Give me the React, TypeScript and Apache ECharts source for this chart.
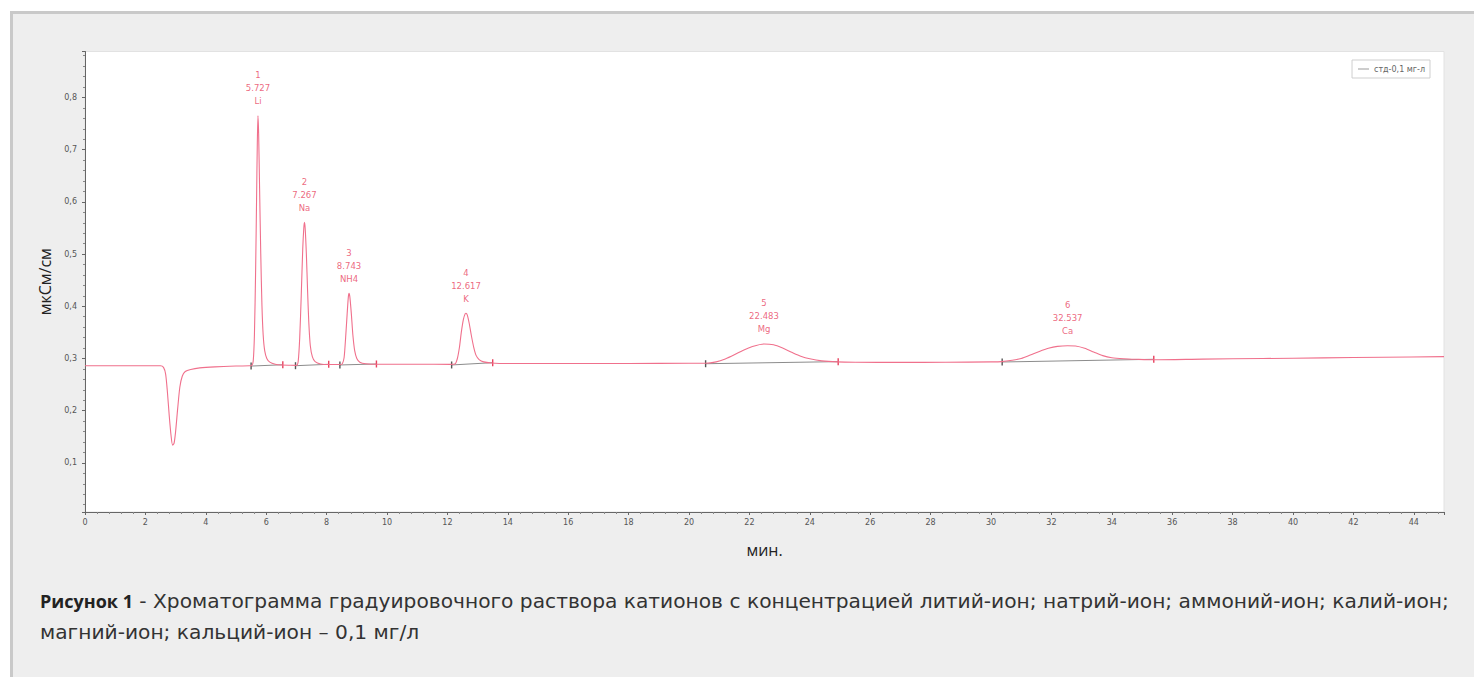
import React, { useEffect, useRef } from "react";
import * as echarts from "echarts";

const seriesName = "стд-0,1 мг-л";
const xAxisName = "мин.";
const yAxisName = "мкСм/см";
const captionBold = "Рисунок 1";
const captionLine1 = " - Хроматограмма градуировочного раствора катионов с концентрацией литий-ион; натрий-ион; аммоний-ион; калий-ион;";
const captionLine2 = "магний-ион; кальций-ион – 0,1 мг/л";

// chromatogram trace: time (min) and conductivity (мкСм/см)
const signalTime = [
  0, 1.0, 2.0, 2.5, 2.6, 2.67, 2.73, 2.79, 2.85, 2.9, 2.95, 3.0, 3.07, 3.14, 3.22, 3.32, 3.5, 3.8, 4.3, 5.0, 5.45,
  5.52, 5.57, 5.61, 5.65, 5.68, 5.705, 5.727, 5.75, 5.78, 5.82, 5.86, 5.9, 5.95, 6.02, 6.12, 6.3, 6.5, 6.8,
  7.0, 7.06, 7.11, 7.16, 7.21, 7.245, 7.267, 7.29, 7.33, 7.37, 7.41, 7.46, 7.53, 7.62, 7.8, 8.1, 8.45,
  8.52, 8.58, 8.63, 8.68, 8.72, 8.743, 8.77, 8.82, 8.87, 8.93, 9.0, 9.1, 9.3, 9.7, 11.0, 12.1,
  12.25, 12.33, 12.4, 12.46, 12.53, 12.59, 12.617, 12.66, 12.72, 12.79, 12.87, 12.95, 13.05, 13.2, 13.45, 14, 16, 18, 20, 20.5,
  20.55, 20.9, 21.2, 21.5, 21.8, 22.1, 22.483, 22.8, 23.1, 23.4, 23.7, 24.0, 24.4, 24.9, 25.5, 27, 28.5, 30, 30.35,
  30.7, 31.0, 31.3, 31.6, 31.9, 32.2, 32.537, 32.8, 33.1, 33.4, 33.7, 34.0, 34.4, 34.8, 35.4, 37, 39, 41, 43, 45,
];
const signalValue = [
  0.286, 0.286, 0.2862, 0.2862, 0.283, 0.27, 0.235, 0.19, 0.152, 0.134, 0.138, 0.16, 0.205, 0.245, 0.266, 0.275, 0.279, 0.282, 0.284, 0.2855, 0.286,
  0.2865, 0.295, 0.345, 0.47, 0.6, 0.71, 0.765, 0.73, 0.63, 0.5, 0.4, 0.345, 0.315, 0.3, 0.293, 0.289, 0.2875, 0.287,
  0.2868, 0.295, 0.34, 0.42, 0.51, 0.55, 0.561, 0.55, 0.5, 0.43, 0.37, 0.325, 0.303, 0.294, 0.2895, 0.2885, 0.2885,
  0.29, 0.302, 0.34, 0.385, 0.418, 0.425, 0.418, 0.385, 0.345, 0.315, 0.3, 0.293, 0.29, 0.289, 0.289, 0.2888,
  0.2895, 0.3, 0.322, 0.35, 0.375, 0.386, 0.3868, 0.383, 0.368, 0.345, 0.322, 0.306, 0.298, 0.2935, 0.2915, 0.2905, 0.2905, 0.2905, 0.2908, 0.291,
  0.291, 0.2935, 0.299, 0.307, 0.316, 0.323, 0.3278, 0.3262, 0.32, 0.312, 0.3045, 0.2995, 0.2955, 0.2935, 0.2928, 0.2925, 0.2928, 0.2935, 0.294,
  0.2965, 0.3, 0.3065, 0.3135, 0.3195, 0.3232, 0.3245, 0.3238, 0.3195, 0.3125, 0.3055, 0.3015, 0.2995, 0.2985, 0.2975, 0.2988, 0.3, 0.3012, 0.3025, 0.3035,
];

// peaks
const peakNumbers = ["1", "2", "3", "4", "5", "6"];
const peakTimes = [5.727, 7.267, 8.743, 12.617, 22.483, 32.537];
const peakTimeLabels = ["5.727", "7.267", "8.743", "12.617", "22.483", "32.537"];
const peakNames = ["Li", "Na", "NH4", "K", "Mg", "Ca"];
const peakHeights = [0.765, 0.561, 0.425, 0.3868, 0.3278, 0.3245];

// integration baselines of each peak
const baseStartTime = [5.5, 6.97, 8.44, 12.14, 20.55, 30.37];
const baseStartValue = [0.2855, 0.2862, 0.2876, 0.2876, 0.29, 0.2933];
const baseEndTime = [6.55, 8.07, 9.65, 13.5, 24.94, 35.39];
const baseEndValue = [0.288, 0.2889, 0.2895, 0.292, 0.294, 0.2985];

const xMin = 0;
const xMax = 45;
const xInterval = 2;
const yMin = 0.006;
const yMax = 0.888;

const LINE = "#f0708c";
const LABEL = "#e8425e";
const TICKFONT = "DejaVu Sans";

export default function App() {
  const ref = useRef<HTMLDivElement>(null);

  useEffect(() => {
    if (!ref.current) return;
    const chart = echarts.init(ref.current, null, { renderer: "svg" });

    const signal = signalTime.map((t, i) => [t, signalValue[i]]);

    const baselineSeries = baseStartTime.map((t, i) => ({
      type: "line",
      name: "baseline" + i,
      data: [
        { value: [t, baseStartValue[i]], itemStyle: { color: "#555" } },
        { value: [baseEndTime[i], baseEndValue[i]], itemStyle: { color: LABEL } },
      ],
      symbol: "rect",
      symbolSize: [1.4, 7],
      showSymbol: true,
      lineStyle: { color: "#8c8c8c", width: 1 },
      silent: true,
      z: 3,
    }));

    const option: any = {
      animation: false,
      backgroundColor: "transparent",
      grid: {
        left: 85,
        right: 30,
        top: 51.5,
        bottom: 165,
        show: true,
        backgroundColor: "#ffffff",
        borderColor: "#e2e2e2",
        borderWidth: 1,
        outerBoundsMode: "none",
      },
      legend: {
        data: [
          {
            name: seriesName,
            icon: "rect",
            itemStyle: { color: "#9a9a9a" },
          },
        ],
        right: 44,
        top: 60,
        backgroundColor: "#ffffff",
        borderColor: "#cfcfcf",
        borderWidth: 1,
        padding: [5, 5, 5, 6],
        itemWidth: 11,
        itemHeight: 1,
        itemGap: 5,
        textStyle: { fontSize: 8, color: "#666", fontFamily: TICKFONT },
      },
      xAxis: {
        type: "value",
        min: xMin,
        max: xMax,
        interval: xInterval,
        name: xAxisName,
        nameLocation: "middle",
        nameGap: 30,
        nameTextStyle: { fontSize: 16, color: "#222", fontFamily: "Open Sans" },
        axisLine: { show: true, onZero: false, lineStyle: { color: "#666", width: 1 } },
        axisTick: { show: true, length: 3, lineStyle: { color: "#666" } },
        minorTick: { show: true, splitNumber: 5, length: 2, lineStyle: { color: "#888" } },
        splitLine: { show: false },
        axisLabel: {
          margin: 6,
          fontSize: 8,
          color: "#555",
          fontFamily: TICKFONT,
          showMaxLabel: false,
        },
      },
      yAxis: {
        type: "value",
        min: yMin,
        max: yMax,
        splitNumber: 9,
        name: yAxisName,
        nameLocation: "middle",
        nameGap: 30,
        nameTextStyle: { fontSize: 16, color: "#222", fontFamily: "Open Sans" },
        axisLine: { show: true, onZero: false, lineStyle: { color: "#666", width: 1 } },
        axisTick: { show: true, length: 3, lineStyle: { color: "#666" } },
        minorTick: { show: true, splitNumber: 5, length: 2, lineStyle: { color: "#888" } },
        splitLine: { show: false },
        axisLabel: {
          margin: 8,
          fontSize: 8,
          color: "#555",
          fontFamily: TICKFONT,
          showMinLabel: false,
          showMaxLabel: false,
          formatter: (v: number) => v.toFixed(1).replace(".", ","),
        },
      },
      series: [
        {
          type: "line",
          name: seriesName,
          data: signal,
          symbol: "none",
          smooth: 0.25,
          lineStyle: { color: LINE, width: 1.1 },
          itemStyle: { color: LINE },
          z: 4,
        },
        ...baselineSeries,
        {
          type: "scatter",
          name: "peaks",
          data: peakTimes.map((t, i) => [t, peakHeights[i]]),
          symbolSize: 0,
          silent: true,
          label: {
            show: true,
            position: "top",
            distance: 8,
            color: LABEL,
            fontSize: 8.5,
            lineHeight: 13,
            fontFamily: TICKFONT,
            formatter: (p: any) =>
              peakNumbers[p.dataIndex] + "\n" + peakTimeLabels[p.dataIndex] + "\n" + peakNames[p.dataIndex],
          },
          z: 5,
        },
      ],
      graphic: [
        {
          type: "text",
          left: 40,
          top: 591,
          silent: true,
          style: {
            text: "{b|" + captionBold + "}{n|" + captionLine1 + "}\n{n|" + captionLine2 + "}",
            rich: {
              b: { fontSize: 18, fontWeight: "bold", fontFamily: "Open Sans", fill: "#222", lineHeight: 31 },
              n: { fontSize: 20.2, fontFamily: "DejaVu Sans", fill: "#333", lineHeight: 31 },
            },
          },
        },
      ],
    };

    chart.setOption(option);
    return () => chart.dispose();
  }, []);

  return (
    <div style={{ position: "absolute", left: 0, top: 0, width: 1474, height: 677, background: "#fff", overflow: "hidden" }}>
      <div
        style={{
          position: "absolute",
          left: 10,
          top: 11,
          width: 1464,
          height: 666,
          background: "#eeeeee",
          borderTop: "3px solid #c9c9c9",
          borderLeft: "3px solid #c9c9c9",
          boxSizing: "border-box",
        }}
      />
      <div ref={ref} style={{ position: "absolute", left: 0, top: 0, width: 1474, height: 677 }} />
    </div>
  );
}
